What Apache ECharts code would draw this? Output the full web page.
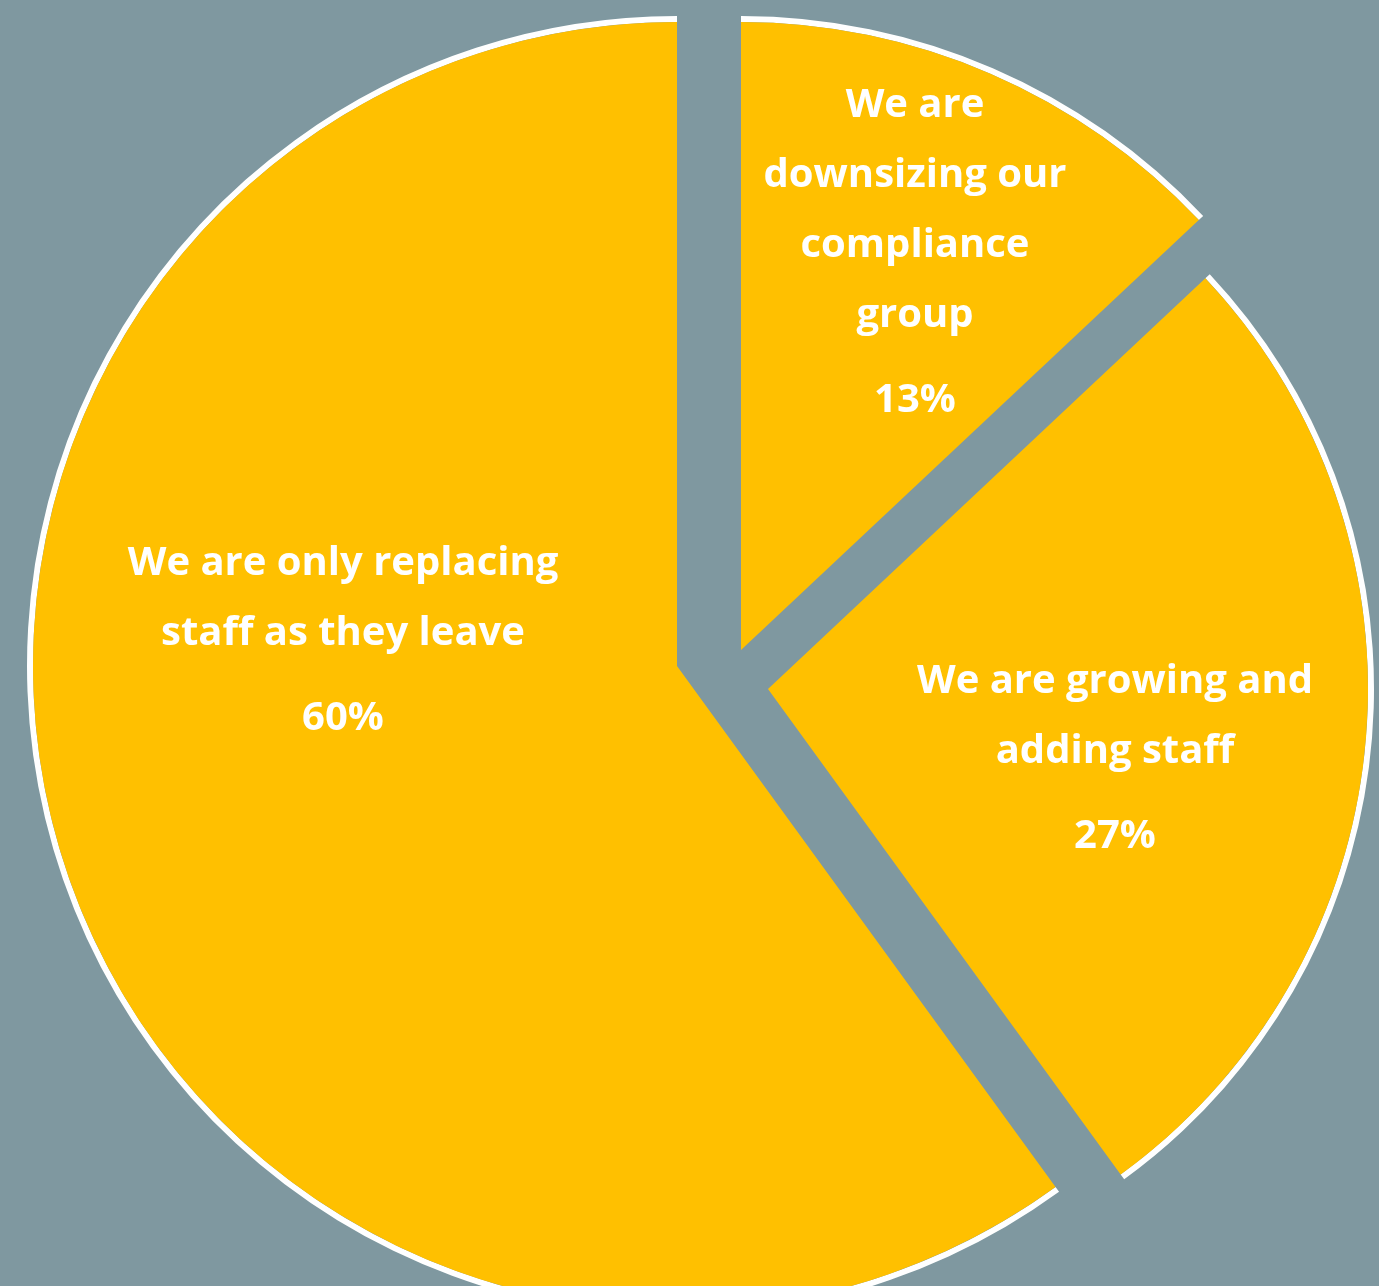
<!DOCTYPE html>
<html>
<head>
<meta charset="utf-8">
<script src="https://cdn.jsdelivr.net/npm/echarts@6/dist/echarts.min.js"></script>
<style>
  html, body { margin: 0; padding: 0; background: #7F98A0; }
  #chart { width: 1379px; height: 1286px; }
</style>
</head>
<body>
<div id="chart"></div>
<script>
// ---- data ----
const categories = [
  'We are\ndownsizing our\ncompliance\ngroup',
  'We are growing and\nadding staff',
  'We are only replacing\nstaff as they leave'
];
const values = [13, 27, 60];

// ---- styles / layout (not data) ----
const BG = '#7F98A0';
const YELLOW = '#FFC000';
const BORDER = '#FFFFFF';
const BORDER_W = 6;
const FONT = '"Open Sans", "Noto Sans", sans-serif';
const FONT_SIZE = 40;
const sliceCenters = [[741, 650], [768, 689], [677, 666]];
const sliceRadii = [634, 606, 650];
const labelPos = [[915, 261], [1115, 767], [343, 649]];

const series = [];
values.forEach((_, i) => {
  const makeData = (fill, withLabel) => values.map((v, j) => ({
    name: categories[j],
    value: v,
    itemStyle: { color: j === i ? fill : 'transparent' },
    label: { show: withLabel && j === i }
  }));
  series.push({
    type: 'pie',
    startAngle: 90,
    clockwise: true,
    center: sliceCenters[i],
    radius: [0, sliceRadii[i] - BORDER_W],
    silent: true,
    animation: false,
    z: 2,
    data: makeData(YELLOW, true),
    label: {
      position: 'inside',
      color: '#FFFFFF',
      fontFamily: FONT,
      fontWeight: 'bold',
      formatter: p => '{n|' + p.name + '}\n{p|' + Math.round(p.percent) + '%}',
      rich: {
        n: { fontFamily: FONT, fontWeight: 'bold', fontSize: FONT_SIZE, lineHeight: 70, color: '#FFFFFF', align: 'center' },
        p: { fontFamily: FONT, fontWeight: 'bold', fontSize: FONT_SIZE, lineHeight: 100, color: '#FFFFFF', align: 'center' }
      }
    },
    labelLine: { show: false },
    labelLayout: { x: labelPos[i][0], y: labelPos[i][1], align: 'center', verticalAlign: 'middle' },
    emphasis: { disabled: true }
  });
  series.push({
    type: 'pie',
    startAngle: 90,
    clockwise: true,
    center: sliceCenters[i],
    radius: [sliceRadii[i] - BORDER_W, sliceRadii[i]],
    silent: true,
    animation: false,
    z: 1,
    data: makeData(BORDER, false),
    label: { show: false },
    labelLine: { show: false },
    emphasis: { disabled: true }
  });
});

const chart = echarts.init(document.getElementById('chart'), null, { renderer: 'canvas' });
chart.setOption({
  backgroundColor: BG,
  animation: false,
  series: series
});
</script>
</body>
</html>
